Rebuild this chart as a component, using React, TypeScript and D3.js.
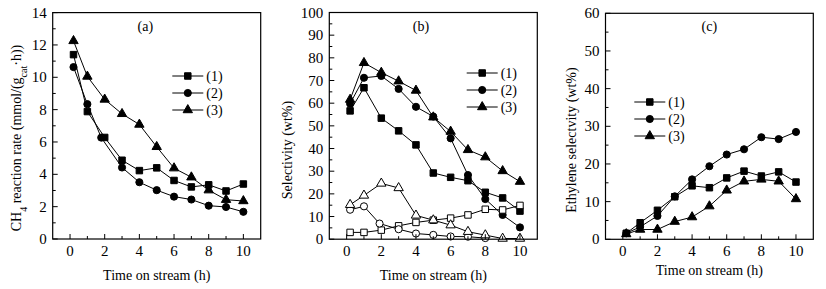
import React from "react";
import * as d3 from "d3";

// ---------- Data ----------
const timeTicks = [0, 2, 4, 6, 8, 10];
const timeMinor = [1, 3, 5, 7, 9];

// Panel (a): CH4 reaction rate
const aX1 = [0.2, 1, 2, 3, 4, 5, 6, 7, 8, 9, 10];
const aY1 = [11.4, 7.88, 6.28, 4.87, 4.23, 4.4, 3.62, 3.22, 3.35, 2.97, 3.4];
const aX2 = [0.2, 1, 1.8, 3, 4, 5, 6, 7, 8, 9, 10];
const aY2 = [10.63, 8.34, 6.27, 4.42, 3.51, 3.02, 2.62, 2.44, 2.06, 1.98, 1.68];
const aX3 = [0.2, 1, 2, 3, 4, 5, 6, 7, 8, 9, 10];
const aY3 = [12.25, 10.05, 8.63, 7.74, 7.08, 5.7, 4.38, 3.82, 3.02, 2.43, 2.35];
const aTicks = [0, 2, 4, 6, 8, 10, 12, 14];
const aMinor = [1, 3, 5, 7, 9, 11, 13];

// Panel (b): selectivity
const bX = [0.2, 1, 2, 3, 4, 5, 6, 7, 8, 9, 10];
const bY1 = [56.6, 66.8, 53.4, 47.8, 41.6, 29.2, 27.3, 25.8, 20.7, 18.2, 12.4];
const bY2 = [59.8, 71.2, 72.0, 66.3, 58.4, 54.1, 44.5, 28.3, 17.7, 10.7, 5.2];
const bY3 = [61.6, 77.8, 73.5, 69.7, 65.6, 53.8, 47.5, 39.4, 36.2, 30.1, 25.4];
const bYo1 = [3.0, 3.0, 4.0, 5.9, 7.4, 8.4, 9.3, 10.7, 13.2, 12.9, 14.9];
const bXo2 = [0.2, 1, 1.9, 3, 4, 5, 6, 7, 8];
const bYo2 = [13.0, 14.5, 6.9, 4.4, 2.5, 1.9, 1.2, 1.1, 0.5];
const bYo3 = [15.2, 19.3, 24.6, 22.6, 10.5, 8.4, 6.2, 3.3, 1.8, 0.3, 0.3];
const bTicks = [0, 10, 20, 30, 40, 50, 60, 70, 80, 90, 100];
const bMinor = [5, 15, 25, 35, 45, 55, 65, 75, 85, 95];

// Panel (c): ethylene selectivity
const cX = [0.2, 1, 2, 3, 4, 5, 6, 7, 8, 9, 10];
const cY1 = [1.6, 4.4, 7.7, 11.3, 14.2, 13.7, 16.3, 18.1, 16.8, 17.9, 15.2];
const cY2 = [1.6, 3.3, 6.2, 11.4, 15.9, 19.4, 22.5, 23.9, 27.1, 26.6, 28.5];
const cY3 = [1.4, 2.6, 2.6, 4.7, 5.9, 8.8, 13.0, 15.4, 15.9, 15.4, 10.7];
const cTicks = [0, 10, 20, 30, 40, 50, 60];
const cMinor = [5, 15, 25, 35, 45, 55];

const legendLabels = ["(1)", "(2)", "(3)"];

const FONT = "'Liberation Serif', 'Times New Roman', serif";

type Shape = "square" | "circle" | "triangle";

function Marker({ x, y, shape, open }: { x: number; y: number; shape: Shape; open?: boolean }) {
  const sym =
    shape === "square" ? d3.symbolSquare : shape === "circle" ? d3.symbolCircle : d3.symbolTriangle;
  const size = shape === "square" ? 42 : shape === "circle" ? 40 : 38;
  const path = d3.symbol().type(sym).size(size)() as string;
  return (
    <path
      d={path}
      transform={`translate(${x},${y})`}
      fill={open ? "#fff" : "#000"}
      stroke="#000"
      strokeWidth={1}
    />
  );
}

type Series = { xs: number[]; ys: number[]; shape: Shape; open?: boolean };

function Panel(props: {
  left: number;
  right: number;
  top: number;
  bottom: number;
  yMax: number;
  yTicks: number[];
  yMinor: number[];
  series: Series[];
  label: string;
  labelX: number;
  legendX: number;
  legendY: number;
  yTitle: React.ReactNode;
  yTitleX: number;
  yTitleY: number;
  xTitleY: number;
}) {
  const x = d3.scaleLinear().domain([-1, 11]).range([props.left, props.right]);
  const y = d3.scaleLinear().domain([0, props.yMax]).range([props.bottom, props.top]);
  const line = d3
    .line<[number, number]>()
    .x((d) => x(d[0]))
    .y((d) => y(d[1]));
  const shapes: Shape[] = ["square", "circle", "triangle"];
  return (
    <g>
      {props.series.map((s, i) => (
        <path
          key={"l" + i}
          d={line(s.xs.map((v, j) => [v, s.ys[j]] as [number, number])) as string}
          fill="none"
          stroke="#000"
          strokeWidth={1}
        />
      ))}
      {props.series.map((s, i) =>
        s.xs.map((v, j) => (
          <Marker key={"m" + i + "-" + j} x={x(v)} y={y(s.ys[j])} shape={s.shape} open={s.open} />
        ))
      )}
      <rect
        x={props.left}
        y={props.top}
        width={props.right - props.left}
        height={props.bottom - props.top}
        fill="none"
        stroke="#000"
        strokeWidth={1.2}
      />
      {timeTicks.map((t) => (
        <g key={"xt" + t}>
          <line x1={x(t)} x2={x(t)} y1={props.bottom} y2={props.bottom - 5} stroke="#000" />
          <text x={x(t)} y={props.bottom + 17} textAnchor="middle" fontSize={15} fontFamily={FONT}>
            {t}
          </text>
        </g>
      ))}
      {timeMinor.map((t) => (
        <line key={"xm" + t} x1={x(t)} x2={x(t)} y1={props.bottom} y2={props.bottom - 3} stroke="#000" />
      ))}
      {props.yTicks.map((t) => (
        <g key={"yt" + t}>
          <line x1={props.left} x2={props.left + 5} y1={y(t)} y2={y(t)} stroke="#000" />
          <text
            x={props.left - 6}
            y={y(t) + 5}
            textAnchor="end"
            fontSize={15}
            fontFamily={FONT}
          >
            {t}
          </text>
        </g>
      ))}
      {props.yMinor.map((t) => (
        <line key={"ym" + t} x1={props.left} x2={props.left + 3} y1={y(t)} y2={y(t)} stroke="#000" />
      ))}
      <text x={props.labelX} y={31} textAnchor="middle" fontSize={14} fontFamily={FONT}>
        {props.label}
      </text>
      {legendLabels.map((lab, i) => {
        const ly = props.legendY + i * 17;
        return (
          <g key={"lg" + i}>
            <line x1={props.legendX} x2={props.legendX + 31} y1={ly} y2={ly} stroke="#000" />
            <Marker x={props.legendX + 15.5} y={ly} shape={shapes[i]} />
            <text x={props.legendX + 34} y={ly + 5} fontSize={14} fontFamily={FONT}>
              {lab}
            </text>
          </g>
        );
      })}
      <text
        x={(props.left + props.right) / 2 + 0}
        y={props.xTitleY}
        textAnchor="middle"
        fontSize={14}
        fontFamily={FONT}
      >
        Time on stream (h)
      </text>
      <text
        transform={`translate(${props.yTitleX},${props.yTitleY}) rotate(-90)`}
        textAnchor="middle"
        fontSize={14}
        fontFamily={FONT}
        dy="0.35em"
      >
        {props.yTitle}
      </text>
    </g>
  );
}

export default function App() {
  return (
    <svg
      width={826}
      height={289}
      style={{ position: "absolute", left: 0, top: 0, background: "#fff" }}
    >
      <rect x={0} y={0} width={826} height={289} fill="#fff" />
      <Panel
        left={52.7}
        right={260.7}
        top={12.6}
        bottom={239}
        yMax={14}
        yTicks={aTicks}
        yMinor={aMinor}
        series={[
          { xs: aX1, ys: aY1, shape: "square" },
          { xs: aX2, ys: aY2, shape: "circle" },
          { xs: aX3, ys: aY3, shape: "triangle" },
        ]}
        label="(a)"
        labelX={145.3}
        legendX={172.3}
        legendY={76}
        yTitle={
          <>
            CH<tspan baselineShift="sub" fontSize={10}>4</tspan> reaction rate (mmol/(g
            <tspan baselineShift="sub" fontSize={10}>cat</tspan>·h))
          </>
        }
        yTitleX={16}
        yTitleY={138}
        xTitleY={280}
      />
      <Panel
        left={329.3}
        right={537.3}
        top={12.5}
        bottom={239.2}
        yMax={100}
        yTicks={bTicks}
        yMinor={bMinor}
        series={[
          { xs: bX, ys: bY1, shape: "square" },
          { xs: bX, ys: bY2, shape: "circle" },
          { xs: bX, ys: bY3, shape: "triangle" },
          { xs: bX, ys: bYo1, shape: "square", open: true },
          { xs: bXo2, ys: bYo2, shape: "circle", open: true },
          { xs: bX, ys: bYo3, shape: "triangle", open: true },
        ]}
        label="(b)"
        labelX={421}
        legendX={466.7}
        legendY={73}
        yTitle={<>Selectivity (wt%)</>}
        yTitleX={287}
        yTitleY={150}
        xTitleY={280}
      />
      <Panel
        left={605.5}
        right={813.3}
        top={13.3}
        bottom={239.3}
        yMax={60}
        yTicks={cTicks}
        yMinor={cMinor}
        series={[
          { xs: cX, ys: cY1, shape: "square" },
          { xs: cX, ys: cY2, shape: "circle" },
          { xs: cX, ys: cY3, shape: "triangle" },
        ]}
        label="(c)"
        labelX={709.3}
        legendX={634.3}
        legendY={102}
        yTitle={<>Ethylene selectvity (wt%)</>}
        yTitleX={571}
        yTitleY={140}
        xTitleY={275}
      />
    </svg>
  );
}
